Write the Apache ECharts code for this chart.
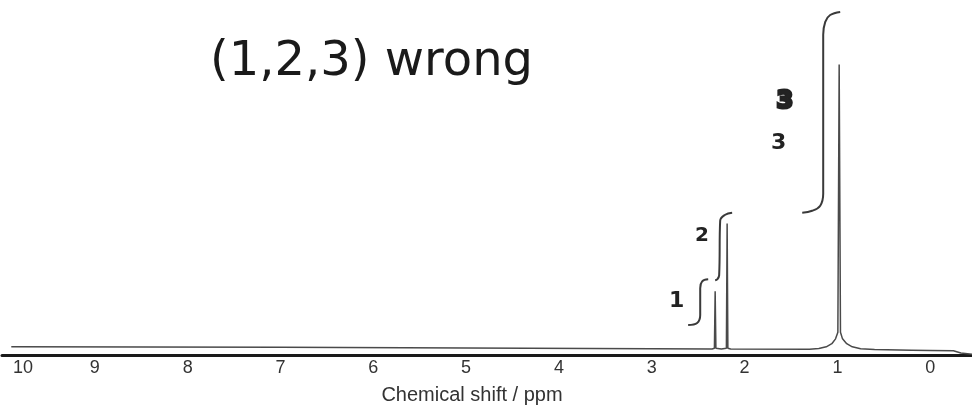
<!DOCTYPE html>
<html><head><meta charset="utf-8">
<script src="https://cdn.jsdelivr.net/npm/echarts@6/dist/echarts.min.js"></script>
<style>html,body{margin:0;padding:0;background:#fff}#c{width:972px;height:410px}</style>
</head><body><div id="c"></div>
<script>
// tick labels (ppm)
const tickValues = [10, 9, 8, 7, 6, 5, 4, 3, 2, 1, 0];
// spectrum trace: [ppm, intensity]
const spectrum = [
  [9.9, 0.4], [7, 0.2], [5, 0.0], [3, -0.3],
  [2.35, -0.4], [2.325, -0.1], [2.317, 20.0], [2.309, -0.1],
  [2.25, -0.4], [2.196, -0.1], [2.188, 43.9], [2.180, -0.1], [2.15, -0.4],
  [1.30, -0.5], [1.20, -0.2], [1.12, 0.4], [1.06, 1.5], [1.02, 3.2], [0.995, 5.5],
  [0.981, 100.0],
  [0.967, 5.5], [0.945, 3.2], [0.90, 1.5], [0.84, 0.4], [0.75, -0.3], [0.6, -0.6],
  [0.2, -0.8], [0.0, -0.9], [-0.25, -1.0], [-0.33, -1.8], [-0.45, -2.2]
];
// hand-drawn integration brackets: [ppm, height]
const bracket1 = [[2.392, 24.2], [2.457, 23.5], [2.478, 21.1], [2.478, 11.6], [2.511, 8.8], [2.608, 8.1]];
const bracket2 = [[2.134, 47.7], [2.209, 47.0], [2.263, 44.9], [2.274, 25.6], [2.295, 24.2], [2.317, 23.9]];
const bracket3 = [[0.970, 118.6], [1.078, 117.5], [1.131, 115.1], [1.153, 110.5], [1.153, 54.4], [1.185, 50.2], [1.272, 48.4], [1.379, 47.7]];
const annotation = "(1,2,3) wrong";

const chart = echarts.init(document.getElementById('c'));
const bracketStyle = {color: '#3a3a3a', width: 2};
const hand = "'DejaVu Sans', sans-serif";
const axisFont = "'Liberation Sans Narrow','Liberation Sans',Arial,sans-serif";
chart.setOption({
  animation: false,
  backgroundColor: '#ffffff',
  grid: {left: 2, right: 0, top: 0, bottom: 53},
  title: {
    text: annotation, left: 205, top: 34,
    textStyle: {fontFamily: hand, fontSize: 48, fontWeight: 'normal', color: '#1a1a1a'}
  },
  xAxis: {
    type: 'value', inverse: true, min: -0.45, max: 10,
    name: 'Chemical shift / ppm', nameLocation: 'middle', nameGap: 30,
    nameTextStyle: {fontFamily: axisFont, fontSize: 20, color: '#333', padding: [0, 30, 0, 0]},
    axisLine: {onZero: false, lineStyle: {color: '#1a1a1a', width: 3}},
    axisTick: {show: false},
    splitLine: {show: false},
    axisLabel: {
      customValues: tickValues, margin: 4,
      fontFamily: axisFont, fontSize: 18, color: '#333',
      formatter: function (v) { return v === 10 ? '{p|10}' : String(v); },
      rich: {p: {fontFamily: axisFont, fontSize: 18, color: '#333', padding: [0, 0, 0, 42]}}
    }
  },
  yAxis: {type: 'value', min: -2.5, max: 122.8, show: false},
  series: [
    {type: 'line', data: spectrum, symbol: 'none', lineStyle: {color: '#4a4a4a', width: 1.5}},
    {type: 'line', data: bracket1, symbol: 'none', smooth: 0.4, lineStyle: bracketStyle},
    {type: 'line', data: bracket2, symbol: 'none', smooth: 0.4, lineStyle: bracketStyle},
    {type: 'line', data: bracket3, symbol: 'none', smooth: 0.4, lineStyle: bracketStyle}
  ],
  graphic: [
    {type: 'text', left: 669, top: 290, style: {text: '1', font: "bold 22px 'DejaVu Sans'", fill: '#222'}},
    {type: 'text', left: 695, top: 226, style: {text: '2', font: "bold 20px 'DejaVu Sans'", fill: '#222'}},
    {type: 'text', left: 775, top: 88, style: {text: '3', font: "bold 24px 'DejaVu Sans'", fill: '#222', stroke: '#222', lineWidth: 3}},
    {type: 'text', left: 771, top: 132, style: {text: '3', font: "bold 22px 'DejaVu Sans'", fill: '#222'}}
  ]
});
</script></body></html>
